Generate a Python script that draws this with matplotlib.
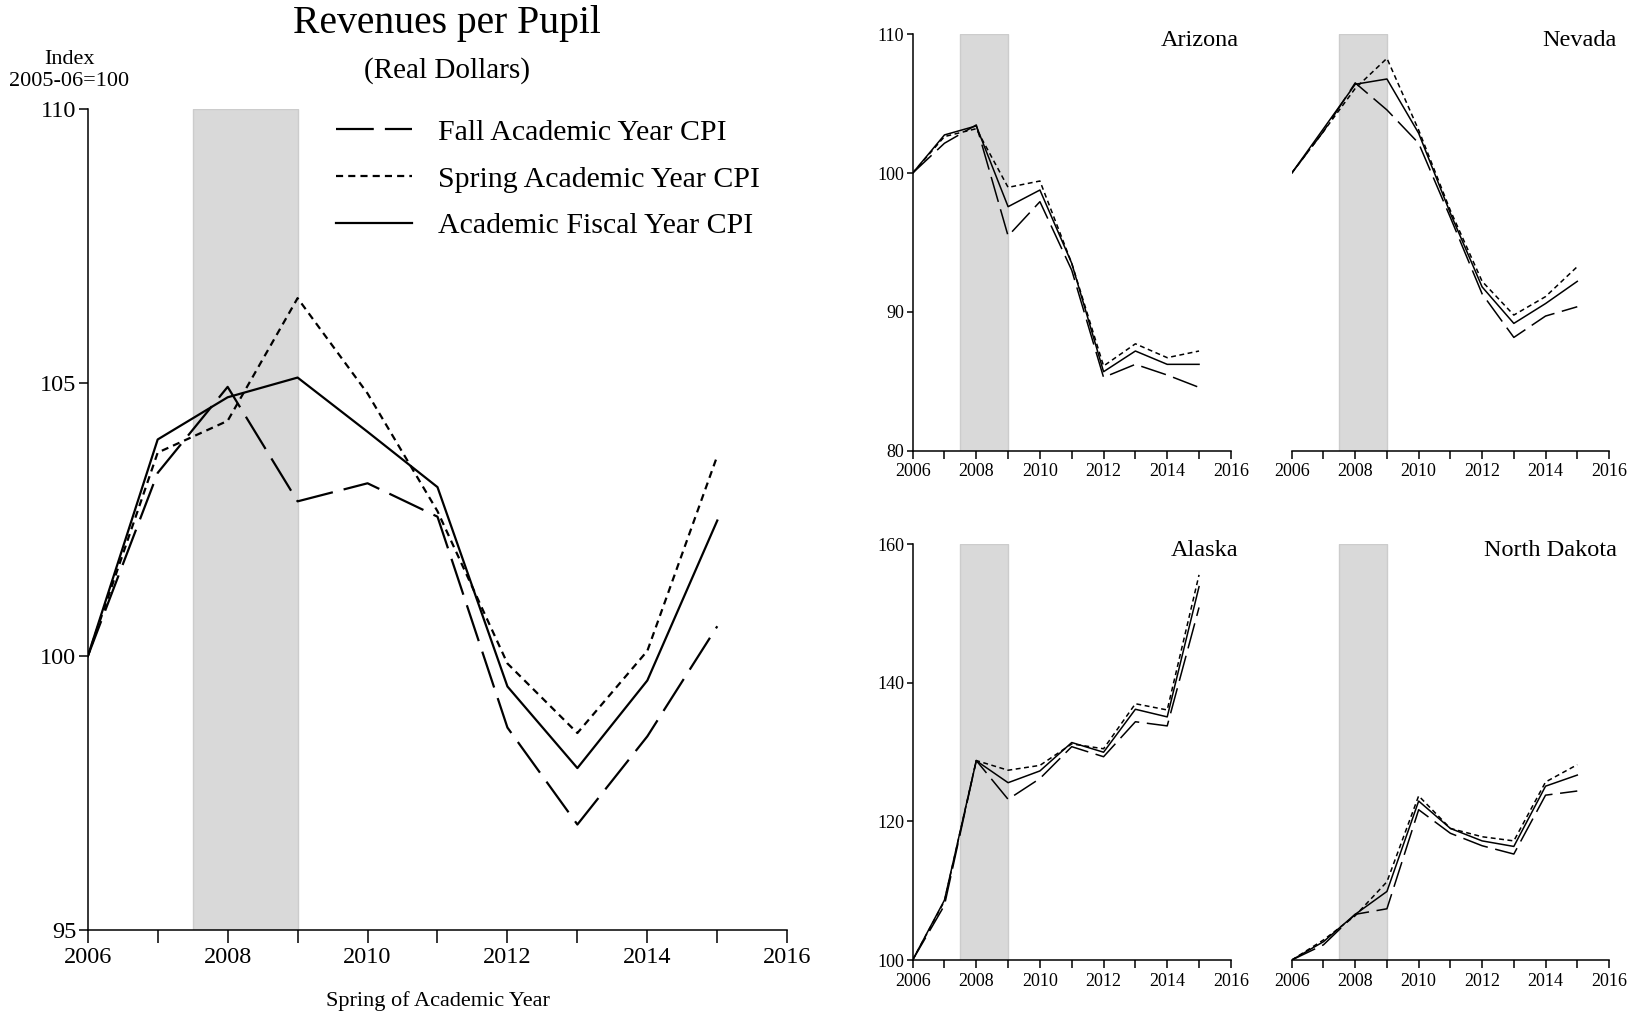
import matplotlib
matplotlib.use("Agg")
import matplotlib.pyplot as plt
from matplotlib.ticker import MultipleLocator

plt.rcParams["font.family"] = ["Liberation Serif", "DejaVu Serif"]
plt.rcParams["axes.linewidth"] = 1.1

# ---- data: revenue per pupil index, 2005-06 = 100 ----------------------
years = list(range(2006, 2016))

us_fall = [100, 103.35, 104.92, 102.83, 103.16, 102.55, 98.70, 96.93, 98.54, 100.55]
us_spring = [100, 103.72, 104.30, 106.54, 104.80, 102.65, 99.87, 98.60, 100.10, 103.66]
us_fiscal = [100, 103.96, 104.73, 105.09, 104.10, 103.09, 99.45, 97.96, 99.56, 102.48]

az_fall = [100, 102.15, 103.47, 95.47, 97.94, 93.0, 85.28, 86.22, 85.45, 84.56]
az_spring = [100, 102.63, 103.20, 98.97, 99.43, 93.5, 86.10, 87.70, 86.70, 87.18]
az_fiscal = [100, 102.75, 103.40, 97.58, 98.78, 93.5, 85.69, 87.18, 86.22, 86.22]

nv_fall = [100, 103.0, 106.50, 104.55, 102.15, 96.8, 91.30, 88.16, 89.70, 90.37]
nv_spring = [100, 103.0, 106.10, 108.27, 103.10, 97.3, 92.20, 89.77, 91.10, 93.26]
nv_fiscal = [100, 103.2, 106.40, 106.78, 102.87, 97.1, 91.80, 89.17, 90.60, 92.20]

ak_fall = [100, 107.9, 128.8, 123.2, 126.2, 130.8, 129.35, 134.4, 133.8, 150.9]
ak_spring = [100, 108.5, 128.8, 127.4, 128.1, 131.2, 130.5, 137.0, 136.1, 155.6]
ak_fiscal = [100, 108.65, 128.77, 125.6, 127.3, 131.4, 130.0, 136.2, 135.1, 153.9]

nd_fall = [100, 102.2, 106.6, 107.4, 121.7, 118.3, 116.5, 115.3, 123.8, 124.4]
nd_spring = [100, 102.9, 106.4, 111.3, 123.7, 119.0, 117.8, 117.2, 125.7, 128.2]
nd_fiscal = [100, 102.65, 106.6, 109.9, 122.95, 119.0, 117.2, 116.4, 125.1, 126.7]

series_labels = ["Fall Academic Year CPI", "Spring Academic Year CPI",
                 "Academic Fiscal Year CPI"]

# recession band (fiscal years)
rec_start, rec_end = 2007.5, 2009

FALL_DASH = (0, (17, 5))
SPRING_DASH = (0, (3.2, 2.3))
GREY = "#d9d9d9"


def style_axes(ax, ylim, yticks, tick_size, tick_len, show_y=True):
    ax.set_xlim(2006, 2016)
    ax.set_ylim(*ylim)
    ax.spines["top"].set_visible(False)
    ax.spines["right"].set_visible(False)
    ax.xaxis.set_major_locator(MultipleLocator(2))
    ax.xaxis.set_minor_locator(MultipleLocator(1))
    ax.tick_params(axis="x", which="both", length=tick_len, width=1.1,
                   labelsize=tick_size, pad=3)
    if show_y:
        ax.set_yticks(yticks)
        ax.tick_params(axis="y", length=tick_len * 0.7, width=1.1,
                       labelsize=tick_size, pad=2)
    else:
        ax.spines["left"].set_visible(False)
        ax.set_yticks([])


def draw_lines(ax, fall, spring, fiscal, lw):
    ax.axvspan(rec_start, rec_end, facecolor=GREY, edgecolor="#cccccc",
               lw=1, zorder=0)
    ax.plot(years, fall, color="black", lw=lw, linestyle=FALL_DASH,
            label=series_labels[0])
    ax.plot(years, spring, color="black", lw=lw, linestyle=SPRING_DASH,
            label=series_labels[1])
    ax.plot(years, fiscal, color="black", lw=lw, label=series_labels[2])


fig = plt.figure(figsize=(16.37, 10.21), dpi=100)

# ---- national panel ------------------------------------------------------
ax = fig.add_axes([0.0536, 0.0889, 0.4273, 0.8047])
draw_lines(ax, us_fall, us_spring, us_fiscal, lw=1.6)
style_axes(ax, (95, 110), [95, 100, 105, 110], 17.5, 9)
ax.set_xlabel("Spring of Academic Year", fontsize=16, labelpad=17)
ax.legend(frameon=False, fontsize=21.5, loc="upper left",
          bbox_to_anchor=(336 / 1637, 1 - 119 / 1021),
          bbox_transform=fig.transFigure, handlelength=2.55,
          handletextpad=0.87, labelspacing=0.66, borderaxespad=0,
          borderpad=0)

fig.text(447 / 1637, 1 - 23 / 1021, "Revenues per Pupil", fontsize=28.5,
         ha="center", va="center")
fig.text(447 / 1637, 1 - 71 / 1021, "(Real Dollars)", fontsize=21,
         ha="center", va="center")
fig.text(69 / 1637, 1 - 59 / 1021, "Index", fontsize=16, ha="center",
         va="center")
fig.text(69 / 1637, 1 - 81 / 1021, "2005-06=100", fontsize=16, ha="center",
         va="center")

# ---- state panels --------------------------------------------------------
states = [
    ("Arizona", [0.5575, 0.5586, 0.1944, 0.4078], az_fall, az_spring, az_fiscal,
     (80, 110), [80, 90, 100, 110], True),
    ("Nevada", [0.7891, 0.5586, 0.1938, 0.4078], nv_fall, nv_spring, nv_fiscal,
     (80, 110), [80, 90, 100, 110], False),
    ("Alaska", [0.5575, 0.0597, 0.1944, 0.4071], ak_fall, ak_spring, ak_fiscal,
     (100, 160), [100, 120, 140, 160], True),
    ("North Dakota", [0.7891, 0.0597, 0.1938, 0.4071], nd_fall, nd_spring,
     nd_fiscal, (100, 160), [100, 120, 140, 160], False),
]

for name, rect, fall, spring, fiscal, ylim, yticks, show_y in states:
    sax = fig.add_axes(rect)
    draw_lines(sax, fall, spring, fiscal, lw=1.1)
    style_axes(sax, ylim, yticks, 13, 6, show_y=show_y)
    sax.text(1.025, 0.985, name, transform=sax.transAxes, fontsize=17.5,
             ha="right", va="center")

fig.savefig("out.png", dpi=100, facecolor="white")
